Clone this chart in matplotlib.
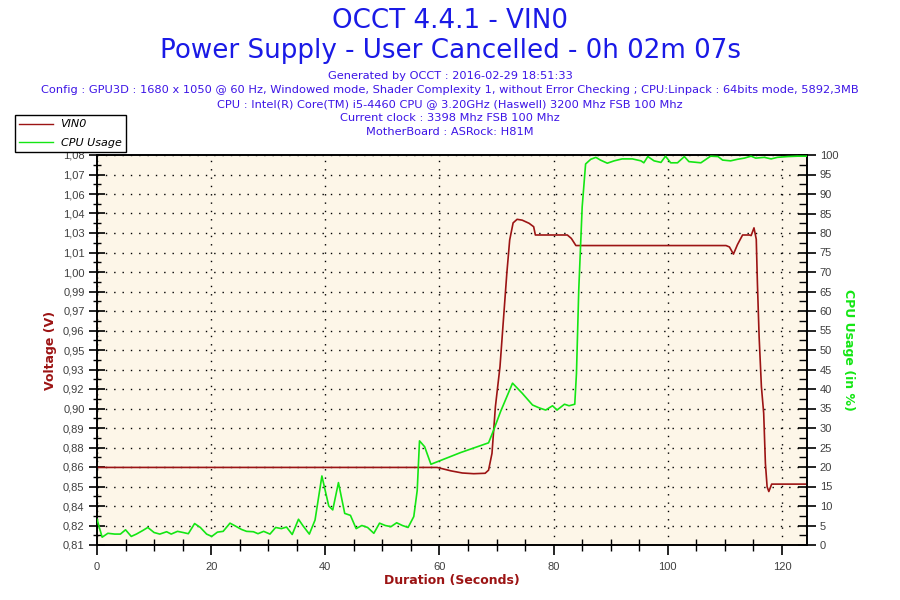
import matplotlib
matplotlib.use("Agg")
import matplotlib.pyplot as plt
from matplotlib.ticker import MultipleLocator
from matplotlib.lines import Line2D
import numpy as np

# ---------------- data ----------------
vin0_t = [0, 59.6, 62, 64, 66, 68, 68.6, 69.2, 69.8, 70.6, 71.2, 71.8, 72.3, 72.9,
          73.6, 74.5, 75.7, 76.5, 76.8, 82.4, 83.1, 83.9, 110.2, 110.8, 111.5, 112.2,
          113.1, 114.3, 114.6, 115.1, 115.5, 115.7, 116.0, 116.4, 116.8, 117.1, 117.4,
          117.7, 118.2, 124.3]
vin0_v = [0.8644, 0.8644, 0.8620, 0.8605, 0.8600, 0.8603, 0.8625, 0.8743, 0.9071, 0.9350,
          0.9678, 1.0006, 1.0239, 1.0359, 1.0384, 1.0378, 1.0356, 1.0332, 1.0274, 1.0274,
          1.0250, 1.0200, 1.0200, 1.0190, 1.0140, 1.0206, 1.0274, 1.0274, 1.0270, 1.0324,
          1.0244, 0.9935, 0.9560, 0.9210, 0.9024, 0.8672, 0.8508, 0.8475, 0.8527, 0.8527]

cpu_t = [0, 0.9, 1.9, 3.1, 4.1, 5, 6, 6.9, 8, 8.9, 10, 11, 12.2, 13, 14.1, 15.1, 16, 17.1,
         18.1, 19.2, 20.1, 21.1, 22.1, 23.3, 24.2, 25.3, 26.2, 27.4, 28.2, 29.2, 30.3, 31.3,
         32.3, 33.2, 34.2, 35.3, 36.1, 37.2, 38.2, 39.4, 40.6, 41.3, 42.3, 43.4, 44.4, 45.4,
         46.4, 47.4, 48.5, 49.5, 50.5, 51.5, 52.5, 53.5, 54.5, 55.5, 56.1, 56.5, 57.4, 58.5,
         63.7, 68.6, 69.5, 70.7, 72.8, 74.5, 76.3, 77.4, 78.6, 79.8, 80.6, 81.9, 82.7, 83.7,
         84.0, 84.4, 85.0, 85.6, 86.5, 87.4, 88.2, 89.4, 90.6, 92, 93.8, 95.3, 95.8, 96.5,
         97.6, 98.8, 99.6, 100.5, 101.7, 102.9, 103.7, 105.8, 107.5, 108.8, 109.6, 111,
         112.2, 113.4, 114.6, 115.4, 116.9, 118.1, 119.2, 121, 122.7, 124.3]
cpu_pct = [6.6, 2.0, 3.0, 2.8, 2.8, 3.9, 2.2, 2.8, 3.7, 4.5, 3.2, 2.8, 3.4, 2.8, 3.5, 3.2,
           2.9, 5.5, 4.5, 2.8, 2.2, 3.3, 3.5, 5.6, 4.9, 4.0, 3.5, 3.4, 2.9, 3.5, 2.8, 4.5,
           4.2, 4.6, 2.7, 6.6, 4.9, 2.8, 6.4, 17.7, 10.0, 9.0, 16.0, 8.1, 7.6, 4.2, 5.0, 4.5,
           3.0, 5.6, 5.0, 4.7, 5.7, 5.0, 4.5, 7.3, 14.0, 26.7, 25.2, 20.7, 23.7, 26.2, 29.5,
           34.2, 41.5, 38.9, 35.9, 35.2, 34.6, 35.7, 34.6, 36.1, 35.7, 36.1, 44.0, 65.4,
           86.7, 97.7, 98.9, 99.4, 98.7, 97.9, 98.5, 99.0, 99.0, 98.5, 98.0, 99.6, 98.5,
           98.1, 99.7, 98.0, 98.0, 99.6, 98.3, 98.0, 99.7, 99.6, 98.7, 98.5, 98.9, 99.2,
           99.7, 99.2, 99.4, 99.0, 99.4, 99.6, 99.7, 99.7]

volt_labels = ["0,81", "0,82", "0,84", "0,85", "0,86", "0,88", "0,89", "0,90", "0,92",
               "0,93", "0,95", "0,96", "0,97", "0,99", "1,00", "1,01", "1,03", "1,04",
               "1,06", "1,07", "1,08"]

title1 = "OCCT 4.4.1 - VIN0"
title2 = "Power Supply - User Cancelled - 0h 02m 07s"
info_lines = [
    "Generated by OCCT : 2016-02-29 18:51:33",
    "Config : GPU3D : 1680 x 1050 @ 60 Hz, Windowed mode, Shader Complexity 1, without Error Checking ; CPU:Linpack : 64bits mode, 5892,3MB",
    "CPU : Intel(R) Core(TM) i5-4460 CPU @ 3.20GHz (Haswell) 3200 Mhz FSB 100 Mhz",
    "Current clock : 3398 Mhz FSB 100 Mhz",
    "MotherBoard : ASRock: H81M",
]

# ---------------- style ----------------
V_MIN, V_MAX = 0.81, 1.0835
X_MAX = 124.3
RED = "#9c1414"
GREEN = "#14e614"
BLUE = "#1a1ae6"
INFO = "#3c14e6"
TICKC = "#404040"

fig = plt.figure(figsize=(9, 6), dpi=100)
ax = fig.add_axes([97 / 900, 55 / 600, 709.5 / 900, 390 / 600])
ax.set_facecolor("#fdf6e8")
ax2 = ax.twinx()

ax.plot(vin0_t, vin0_v, color=RED, lw=1.2, zorder=3)
ax2.plot(cpu_t, cpu_pct, color=GREEN, lw=1.2, zorder=3)

ax.set_xlim(0, X_MAX)
ax.set_ylim(V_MIN, V_MAX)
ax2.set_ylim(0, 100)

ax.set_yticks(np.linspace(V_MIN, V_MAX, 21), labels=volt_labels)
ax.set_yticks(np.linspace(V_MIN, V_MAX, 41), minor=True)
ax.xaxis.set_major_locator(MultipleLocator(20))
ax.xaxis.set_minor_locator(MultipleLocator(5))
ax2.yaxis.set_major_locator(MultipleLocator(5))
ax2.yaxis.set_minor_locator(MultipleLocator(2.5))

for a in (ax, ax2):
    for lab in a.get_xticklabels() + a.get_yticklabels():
        lab.set_fontfamily("Liberation Sans")
        lab.set_fontsize(8)
    for s in a.spines.values():
        s.set_color("black")
        s.set_linewidth(1.2)

ax.tick_params(axis="y", which="major", direction="inout", length=12, width=1.2,
               colors="black", labelcolor=TICKC, pad=3)
ax.tick_params(axis="y", which="minor", direction="inout", length=6, width=1.0, colors="black")
ax.tick_params(axis="x", which="major", direction="out", length=7, width=1.2,
               colors="black", labelcolor=TICKC, pad=5)
ax.tick_params(axis="x", which="minor", direction="inout", length=8, width=1.0, colors="black")
ax2.tick_params(axis="y", which="major", direction="inout", length=13, width=1.2,
                colors="black", labelcolor=TICKC, pad=3)
ax2.tick_params(axis="y", which="minor", direction="in", length=6, width=1.0, colors="black")

ax.grid(True, which="major", axis="both", color="black", linestyle=(0, (1, 5)), lw=1.0)
ax.set_axisbelow(True)

ax.set_ylabel("Voltage (V)", color=RED, fontweight="bold", fontsize=9, labelpad=4)
ax.set_xlabel("Duration (Seconds)", color=RED, fontweight="bold", fontsize=9, labelpad=2)
ax2.set_ylabel("CPU Usage (in %)", color=GREEN, fontweight="bold", fontsize=9,
               rotation=270, labelpad=12)

# titles
fig.text(0.5, 1 - 21 / 600, title1, ha="center", va="center", color=BLUE, fontsize=18.8)
fig.text(0.5, 1 - 51 / 600, title2, ha="center", va="center", color=BLUE, fontsize=18.8)
ys = [76, 90, 104, 118, 132]
for y, line in zip(ys, info_lines):
    fig.text(0.5, 1 - y / 600, line, ha="center", va="center", color=INFO, fontsize=8.2)

handles = [Line2D([], [], color=RED, lw=1), Line2D([], [], color=GREEN, lw=1)]
leg = fig.legend(handles, ["VIN0", "CPU Usage"], loc="upper left",
                 bbox_to_anchor=(15 / 900, 1 - 115 / 600), frameon=True, fancybox=False,
                 edgecolor="black", framealpha=1, borderpad=0.4, handlelength=3.0,
                 handletextpad=0.7, labelspacing=0.75, borderaxespad=0,
                 prop=dict(size=8, style="italic"))
leg.get_frame().set_linewidth(1.0)
leg.set_zorder(10)

fig.savefig("out.png", dpi=100)
